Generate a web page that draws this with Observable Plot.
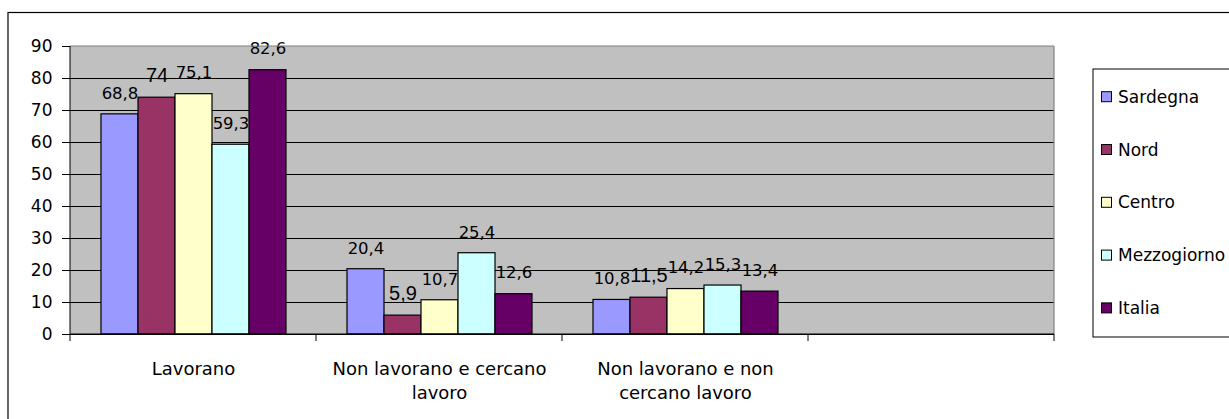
<!DOCTYPE html>
<html>
<head>
<meta charset="utf-8">
<script src="https://cdn.jsdelivr.net/npm/d3@7"></script>
<script src="https://cdn.jsdelivr.net/npm/@observablehq/plot@0.6"></script>
<style>
  html, body { margin: 0; padding: 0; background: #fff; }
  #chart { width: 1229px; height: 419px; overflow: hidden; }
</style>
</head>
<body>
<div id="chart"></div>
<script>
// ---- data ----
const categories = ["Lavorano", "Non lavorano e cercano lavoro", "Non lavorano e non cercano lavoro", ""];
const tickLabels = ["Lavorano", "Non lavorano e cercano\nlavoro", "Non lavorano e non\ncercano lavoro", ""];
const series = ["Sardegna", "Nord", "Centro", "Mezzogiorno", "Italia"];
const sardegna = [68.8, 20.4, 10.8, null];
const nord = [74, 5.9, 11.5, null];
const centro = [75.1, 10.7, 14.2, null];
const mezzogiorno = [59.3, 25.4, 15.3, null];
const italia = [82.6, 12.6, 13.4, null];
const colors = ["#9999FF", "#993366", "#FFFFCC", "#CCFFFF", "#660066"];
const yTicks = [0, 10, 20, 30, 40, 50, 60, 70, 80, 90];

const valuesBySeries = [sardegna, nord, centro, mezzogiorno, italia];
const rows = [];
series.forEach((s, si) => {
  categories.forEach((c, ci) => {
    rows.push({cat: c, series: s, value: valuesBySeries[si][ci]});
  });
});
const fmt = v => String(v).replace(".", ",");
const labelOf = Object.fromEntries(categories.map((c, i) => [c, tickLabels[i]]));

const FONT = "DejaVu Sans, sans-serif";
const ARIAL = "Liberation Sans, Arial, sans-serif";

const plot = Plot.plot({
  width: 1229,
  height: 419,
  marginLeft: 70,
  marginRight: 175,
  marginTop: 46,
  marginBottom: 85,
  style: {background: "#fff", fontFamily: FONT, color: "#000"},
  fx: {domain: categories, padding: 0, axis: null, label: null},
  x: {domain: series, paddingInner: 0, paddingOuter: 0.74, axis: null, label: null},
  y: {domain: [0, 90], axis: null, label: null},
  color: {domain: series, range: colors},
  marks: [
    Plot.gridY(yTicks.slice(0, -1), {stroke: "#000", strokeOpacity: 1, strokeWidth: 1}),
    Plot.barY(rows, {fx: "cat", x: "series", y: "value", fill: "series", stroke: "#000", strokeWidth: 1.2, inset: 0}),
    Plot.text(rows.filter(d => d.series !== "Nord"), {
      fx: "cat", x: "series", y: "value", text: d => d.value == null ? null : fmt(d.value),
      dy: -21, fontSize: 16.5, fontFamily: FONT, fill: "#000"
    }),
    Plot.text(rows.filter(d => d.series === "Nord"), {
      fx: "cat", x: "series", y: "value", text: d => d.value == null ? null : fmt(d.value),
      dy: -22, fontSize: 20, fontFamily: ARIAL, fill: "#000"
    }),
    Plot.axisY({ticks: yTicks, tickSize: 8, tickPadding: 10, fontSize: 17, fontFamily: FONT, stroke: "#000", fill: "#000", label: null}),
    Plot.axisFx({anchor: "bottom", tickSize: 0, tickPadding: 23, fontSize: 18, lineHeight: 1.35, fontFamily: FONT, fill: "#000", label: null,
      tickFormat: d => labelOf[d]})
  ]
});

const svg = d3.select(plot);
const fxs = plot.scale("fx");
const ys = plot.scale("y");
const yTop = ys.apply(90), yBot = ys.apply(0);
const xL = fxs.apply(categories[0]);
const xR = fxs.apply(categories[categories.length - 1]) + fxs.bandwidth;

// plot area background (behind everything)
svg.insert("rect", ":first-child").attr("x", xL).attr("y", yTop).attr("width", xR - xL).attr("height", yBot - yTop)
  .attr("fill", "#C0C0C0");
svg.insert("rect", ":first-child").attr("x", 0).attr("y", 0).attr("width", 1229).attr("height", 419).attr("fill", "#fff");

// plot border (top/right grey), axis lines (left/bottom black)
svg.append("line").attr("x1", xL).attr("x2", xR).attr("y1", yTop).attr("y2", yTop).attr("stroke", "#808080").attr("stroke-width", 1.2);
svg.append("line").attr("x1", xR).attr("x2", xR).attr("y1", yTop).attr("y2", yBot).attr("stroke", "#808080").attr("stroke-width", 1.2);
svg.append("line").attr("x1", xL).attr("x2", xL).attr("y1", yTop).attr("y2", yBot).attr("stroke", "#000").attr("stroke-width", 1);
svg.append("line").attr("x1", xL).attr("x2", xR).attr("y1", yBot).attr("y2", yBot).attr("stroke", "#000").attr("stroke-width", 1);
// category boundary ticks
const bounds = categories.map(c => fxs.apply(c)).concat([xR]);
bounds.forEach(b => {
  svg.append("line").attr("x1", b).attr("x2", b).attr("y1", yBot).attr("y2", yBot + 7).attr("stroke", "#000");
});

// outer chart border
svg.append("rect").attr("x", 8).attr("y", 12.5).attr("width", 1400).attr("height", 600)
  .attr("fill", "none").attr("stroke", "#000").attr("stroke-width", 1.2);

// legend
const lg = svg.append("g").attr("text-anchor", "start");
lg.append("rect").attr("x", 1093).attr("y", 69).attr("width", 300).attr("height", 268)
  .attr("fill", "#fff").attr("stroke", "#000").attr("stroke-width", 1);
series.forEach((s, i) => {
  const cy = 96.7 + i * 52.8;
  lg.append("rect").attr("x", 1101.5).attr("y", cy - 5).attr("width", 10).attr("height", 10)
    .attr("fill", colors[i]).attr("stroke", "#000").attr("stroke-width", 1);
  lg.append("text").attr("x", 1118).attr("y", cy).attr("dy", "0.36em").attr("text-anchor", "start")
    .attr("font-family", FONT).attr("font-size", 17).attr("fill", "#000").text(s);
});

document.getElementById("chart").appendChild(plot);
</script>
</body>
</html>
